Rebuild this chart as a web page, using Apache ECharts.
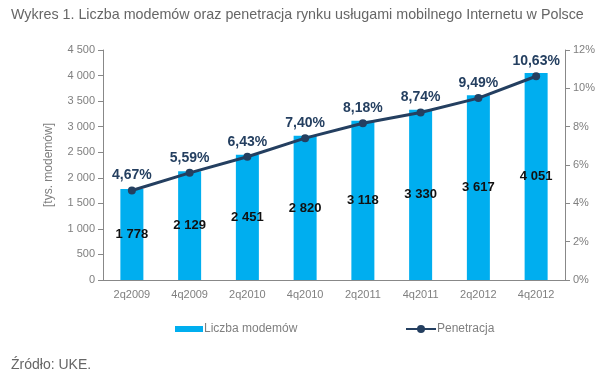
<!DOCTYPE html>
<html><head><meta charset="utf-8">
<script src="https://cdn.jsdelivr.net/npm/echarts@6/dist/echarts.min.js"></script>
<style>html,body{margin:0;padding:0;background:#fff}#c{width:600px;height:372px}</style>
</head><body><div id="c"></div>
<script>
const categories = ['2q2009','4q2009','2q2010','4q2010','2q2011','4q2011','2q2012','4q2012'];
const modems = [1778, 2129, 2451, 2820, 3118, 3330, 3617, 4051];
const penetration = [4.67, 5.59, 6.43, 7.40, 8.18, 8.74, 9.49, 10.63];

const fmtNum = v => String(v).replace(/\B(?=(\d{3})+(?!\d))/g, ' ');
const fmtPct = v => v.toFixed(2).replace('.', ',') + '%';
const font = 'Arial, "Liberation Sans", sans-serif';
const grey = '#7f7f7f';

const chart = echarts.init(document.getElementById('c'));
chart.setOption({
  animation: false,
  textStyle: {fontFamily: font},
  title: [
    {text: 'Wykres 1. Liczba modemów oraz penetracja rynku usługami mobilnego Internetu w Polsce',
     left: 6, top: 3, textStyle: {fontSize: 14.3, fontWeight: 'normal', color: '#666', fontFamily: font}},
    {text: 'Źródło: UKE.', left: 6, top: 353,
     textStyle: {fontSize: 14, fontWeight: 'normal', color: '#666', fontFamily: font}}
  ],
  legend: [
    {top: 318, left: 170, itemWidth: 28, itemHeight: 6,
     textStyle: {color: grey, fontSize: 12, padding: [0,0,0,-4]},
     data: [{name: 'Liczba modemów', icon: 'rect'}]},
    {top: 318, left: 400, itemWidth: 30, itemHeight: 10,
     textStyle: {color: grey, fontSize: 12, padding: [0,0,0,-4]},
     data: [{name: 'Penetracja'}]}
  ],
  grid: {left: 103, right: 35, top: 50, bottom: 92},
  xAxis: {
    type: 'category', data: categories,
    axisLine: {lineStyle: {color: '#888'}},
    axisTick: {lineStyle: {color: '#888'}, length: 5},
    axisLabel: {color: grey, fontSize: 11, margin: 9}
  },
  yAxis: [
    {type: 'value', min: 0, max: 4500, interval: 500,
     name: '[tys. modemów]', nameLocation: 'middle', nameGap: 48, nameRotate: 90,
     nameTextStyle: {color: grey, fontSize: 12},
     axisLine: {show: true, lineStyle: {color: '#888'}},
     axisTick: {show: true, lineStyle: {color: '#888'}, length: 5},
     axisLabel: {color: grey, fontSize: 11, margin: 8, formatter: fmtNum},
     splitLine: {show: false}},
    {type: 'value', min: 0, max: 12, interval: 2, position: 'right',
     axisLine: {show: true, lineStyle: {color: '#888'}},
     axisTick: {show: true, lineStyle: {color: '#888'}, length: 5},
     axisLabel: {color: grey, fontSize: 11, margin: 8, formatter: v => v + '%'},
     splitLine: {show: false}}
  ],
  series: [
    {name: 'Liczba modemów', type: 'bar', data: modems, barWidth: 23,
     itemStyle: {color: '#00AEEF'},
     label: {show: true, position: 'inside', color: '#111', fontWeight: 'bold', fontSize: 13,
             formatter: p => fmtNum(p.value)}},
    {name: 'Penetracja', type: 'line', yAxisIndex: 1, data: penetration,
     symbol: 'circle', symbolSize: 8,
     lineStyle: {color: '#243F60', width: 3},
     itemStyle: {color: '#243F60'},
     label: {show: true, position: 'top', distance: 4, color: '#243F60', fontWeight: 'bold', fontSize: 14,
             formatter: p => fmtPct(p.value)}}
  ]
});
</script></body></html>
